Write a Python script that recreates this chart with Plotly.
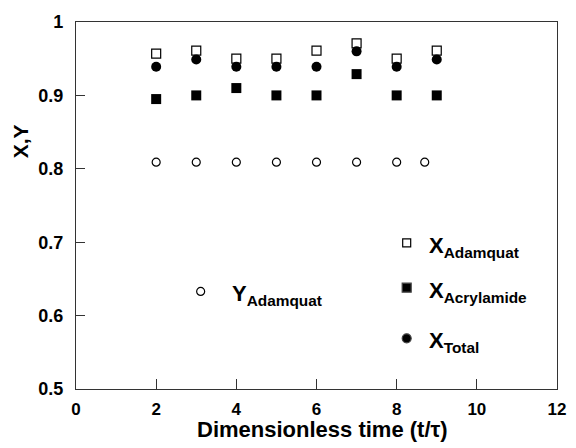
import plotly.graph_objects as go

time_x = [2, 3, 4, 5, 6, 7, 8, 9]
x_adamquat = [0.957, 0.961, 0.950, 0.950, 0.961, 0.971, 0.950, 0.961]
x_acrylamide = [0.895, 0.900, 0.910, 0.900, 0.900, 0.929, 0.900, 0.900]
x_total = [0.939, 0.949, 0.939, 0.939, 0.939, 0.960, 0.939, 0.949]
time_y = [2, 3, 4, 5, 6, 7, 8, 8.7]
y_adamquat = [0.809, 0.809, 0.809, 0.809, 0.809, 0.809, 0.809, 0.809]

# in-plot legend entries
leg_main = ["X", "X", "X", "Y"]
leg_sub = ["Adamquat", "Acrylamide", "Total", "Adamquat"]
leg_x = [8.25, 8.25, 8.25, 3.11]
leg_y = [0.699, 0.638, 0.569, 0.633]
leg_sym = ["square-open", "square", "circle", "circle-open"]
leg_size = [8, 9, 9, 8]
leg_gap = [22, 22, 22, 31]

x_ticks = [0, 2, 4, 6, 8, 10, 12]
y_ticks = [0.5, 0.6, 0.7, 0.8, 0.9, 1.0]
y_tick_text = ["0.5", "0.6", "0.7", "0.8", "0.9", "1"]

FONT = "Liberation Sans, Arial, sans-serif"
AX = "#333333"

fig = go.Figure()
fig.add_trace(go.Scatter(x=time_x, y=x_adamquat, mode="markers",
                         marker=dict(symbol="square-open", size=9, color="black", line=dict(width=1.2))))
fig.add_trace(go.Scatter(x=time_x, y=x_acrylamide, mode="markers",
                         marker=dict(symbol="square", size=10, color="black")))
fig.add_trace(go.Scatter(x=time_x, y=x_total, mode="markers",
                         marker=dict(symbol="circle", size=10, color="black")))
fig.add_trace(go.Scatter(x=time_y, y=y_adamquat, mode="markers",
                         marker=dict(symbol="circle-open", size=8, color="black", line=dict(width=1.2))))

for m, s, lx, ly, sym, sz, gap in zip(leg_main, leg_sub, leg_x, leg_y, leg_sym, leg_size, leg_gap):
    fig.add_trace(go.Scatter(x=[lx], y=[ly], mode="markers",
                             marker=dict(symbol=sym, size=sz, color="black", line=dict(width=1.2))))
    fig.add_annotation(x=lx, y=ly, text=f"<b>{m}<sub>{s}</sub></b>", showarrow=False,
                       xanchor="left", yanchor="middle", xshift=gap - 2, yshift=-4,
                       font=dict(family=FONT, size=22, color="black"))

# axis titles
fig.add_annotation(x=0.5, y=0, xref="paper", yref="paper", yshift=-40, xshift=6,
                   text="<b>Dimensionless time (t/τ)</b>", showarrow=False,
                   xanchor="center", yanchor="middle",
                   font=dict(family=FONT, size=22, color="black"))
fig.add_annotation(x=0, y=0.675, xref="paper", yref="paper", xshift=-56,
                   text="<b>X,Y</b>", showarrow=False, textangle=-90,
                   xanchor="center", yanchor="middle",
                   font=dict(family=FONT, size=21, color="black"))

fig.update_layout(
    width=576, height=448,
    margin=dict(l=76, r=10, t=22, b=59),
    plot_bgcolor="white", paper_bgcolor="white",
    showlegend=False,
    font=dict(family=FONT, color="black"),
)
fig.update_xaxes(range=[0, 12], tickvals=x_ticks, ticktext=[f"<b>{v}</b>" for v in x_ticks],
                 ticks="inside", ticklen=10, tickcolor=AX,
                 showline=True, linecolor=AX, linewidth=1.2, mirror=True, showgrid=False, zeroline=False,
                 tickfont=dict(size=17, family=FONT, color="black"), ticklabelstandoff=4)
fig.update_yaxes(range=[0.5, 1.0], tickvals=y_ticks, ticktext=[f"<b>{t}</b>" for t in y_tick_text],
                 ticks="inside", ticklen=9, tickcolor=AX,
                 showline=True, linecolor=AX, linewidth=1.2, mirror=True, showgrid=False, zeroline=False,
                 tickfont=dict(size=18, family=FONT, color="black"), ticklabelstandoff=8)

fig.write_html("out.html")
